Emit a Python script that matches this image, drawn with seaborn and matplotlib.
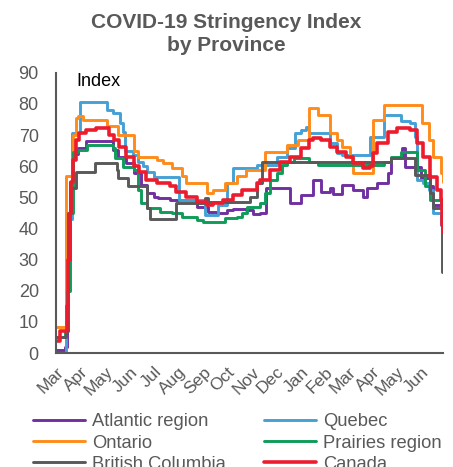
import pandas as pd
import matplotlib
matplotlib.use("Agg")
import matplotlib.pyplot as plt
import seaborn as sns

# change points of each step series (date, index value)
atlantic_dates = ["2020-03-01", "2020-03-12", "2020-03-14", "2020-03-18", "2020-03-22", "2020-03-28",
                  "2020-04-07", "2020-05-11", "2020-05-17", "2020-05-27", "2020-06-06", "2020-06-15",
                  "2020-06-23", "2020-07-01", "2020-07-06", "2020-07-21", "2020-08-24", "2020-09-07",
                  "2020-09-18", "2020-10-01", "2020-10-08", "2020-10-25", "2020-11-02", "2020-11-11",
                  "2020-11-19", "2020-12-19", "2021-01-01", "2021-01-16", "2021-01-26", "2021-02-07",
                  "2021-02-10", "2021-02-22", "2021-03-07", "2021-03-20", "2021-03-25", "2021-04-07",
                  "2021-04-20", "2021-04-24", "2021-05-08", "2021-05-12", "2021-05-31", "2021-06-12",
                  "2021-06-15", "2021-06-28"]
atlantic_vals = [1, 2, 30, 55, 64, 66,
                 68, 65.3, 63, 61, 57.9, 54,
                 51.4, 50.2, 49.8, 49, 47, 45.4,
                 45, 45.8, 46.4, 46, 44.8, 45,
                 53, 48.2, 50.8, 55.6, 51.8, 53,
                 51, 54, 52.5, 50.2, 53, 54.6,
                 57.9, 62.6, 65.9, 59.8, 56.2, 53.5,
                 47.6, 47.6]

quebec_dates = ["2020-03-01", "2020-03-13", "2020-03-21", "2020-03-31", "2020-05-03", "2020-05-11",
                "2020-05-20", "2020-05-23", "2020-05-26", "2020-06-05", "2020-06-11", "2020-06-18",
                "2020-06-23", "2020-07-01", "2020-08-02", "2020-09-03", "2020-09-19", "2020-10-01",
                "2020-10-08", "2020-11-07", "2020-12-02", "2020-12-15", "2020-12-25", "2021-01-01",
                "2021-01-07", "2021-01-11", "2021-02-07", "2021-02-15", "2021-02-22", "2021-03-29",
                "2021-04-15", "2021-05-06", "2021-05-18", "2021-05-24", "2021-05-27", "2021-06-03",
                "2021-06-10", "2021-06-16", "2021-06-25", "2021-06-28"]
quebec_vals = [0, 43, 70.7, 80.5, 78, 77,
               74, 71, 65, 63.6, 61.4, 60,
               58, 56.6, 49, 44.4, 47.6, 54.6,
               59.5, 60.4, 63, 65.9, 70.7, 71.7,
               72.7, 70.7, 67.5, 64.3, 63.6, 69.5,
               76.5, 74.4, 74, 69.5, 55.6, 54.6,
               52.4, 45, 41, 41]

ontario_dates = ["2020-03-01", "2020-03-13", "2020-03-22", "2020-03-26", "2020-03-28", "2020-04-03",
                 "2020-05-03", "2020-05-17", "2020-06-06", "2020-06-11", "2020-07-05", "2020-07-13",
                 "2020-07-24", "2020-08-05", "2020-08-11", "2020-09-06", "2020-09-13", "2020-09-28",
                 "2020-10-13", "2020-10-25", "2020-11-17", "2020-12-15", "2020-12-28", "2021-01-11",
                 "2021-01-23", "2021-02-07", "2021-02-15", "2021-02-22", "2021-03-03", "2021-03-07",
                 "2021-04-02", "2021-04-15", "2021-06-02", "2021-06-10", "2021-06-16", "2021-06-25",
                 "2021-06-28"]
ontario_vals = [8.4, 57, 70, 75.5, 76, 75,
                73, 70, 65, 63, 62, 61,
                59.5, 57, 54.6, 51.4, 52.4, 54.6,
                57, 58.8, 64.7, 66.8, 68.5, 78.7,
                76.5, 70.7, 68.5, 66.3, 63, 57.9,
                75, 79.7, 74, 68.5, 63, 57.9,
                55]

prairies_dates = ["2020-03-01", "2020-03-12", "2020-03-14", "2020-03-18", "2020-03-22", "2020-03-28",
                  "2020-04-08", "2020-05-11", "2020-05-13", "2020-05-23", "2020-06-06", "2020-06-11",
                  "2020-06-15", "2020-06-23", "2020-07-09", "2020-07-24", "2020-08-06", "2020-08-24",
                  "2020-09-01", "2020-09-28", "2020-10-13", "2020-10-20", "2020-10-26", "2020-11-11",
                  "2020-11-17", "2020-11-23", "2020-12-02", "2020-12-09", "2020-12-15", "2020-12-23",
                  "2021-01-11", "2021-01-22", "2021-04-15", "2021-04-24", "2021-05-06", "2021-05-27",
                  "2021-06-06", "2021-06-12", "2021-06-25", "2021-06-28"]
prairies_vals = [5, 7, 20, 45, 64.6, 65.3,
                 66.8, 65.9, 62.6, 59.8, 58.8, 52.4,
                 48.2, 46.6, 45.3, 45, 43.8, 42.8,
                 42.2, 43.4, 43.8, 45, 47, 48.2,
                 51.4, 55.6, 57.9, 60.4, 61.5, 62.6,
                 61.5, 60.4, 61.5, 63, 64.7, 58.8,
                 53.5, 49, 48.2, 47]

bc_dates = ["2020-03-01", "2020-03-13", "2020-03-16", "2020-03-19", "2020-03-26", "2020-04-18",
            "2020-05-16", "2020-05-17", "2020-05-30", "2020-06-23", "2020-06-26", "2020-07-29",
            "2020-09-03", "2020-09-07", "2020-10-29", "2020-11-07", "2020-11-14", "2021-04-24",
            "2021-05-24", "2021-06-12", "2021-06-16", "2021-06-27", "2021-06-28"]
bc_vals = [5, 7, 45, 53, 58, 61,
           58.8, 56.2, 53.5, 46.6, 43, 48.2,
           49.8, 48.6, 50, 54.6, 61.4, 62.6,
           57.2, 51.4, 46.6, 26, 26]

canada_dates = ["2020-03-01", "2020-03-06", "2020-03-14", "2020-03-16", "2020-03-18", "2020-03-20",
                "2020-03-22", "2020-03-26", "2020-03-29", "2020-04-07", "2020-04-20", "2020-05-06",
                "2020-05-12", "2020-05-18", "2020-05-27", "2020-06-06", "2020-06-13", "2020-06-22",
                "2020-07-05", "2020-07-21", "2020-07-29", "2020-08-11", "2020-08-24", "2020-09-06",
                "2020-09-13", "2020-09-26", "2020-10-08", "2020-10-20", "2020-11-07", "2020-11-11",
                "2020-11-23", "2020-12-06", "2020-12-19", "2021-01-01", "2021-01-11", "2021-01-16",
                "2021-01-26", "2021-02-07", "2021-02-15", "2021-02-27", "2021-03-07", "2021-03-20",
                "2021-03-29", "2021-04-02", "2021-04-07", "2021-04-20", "2021-05-02", "2021-05-18",
                "2021-05-27", "2021-06-03", "2021-06-12", "2021-06-21", "2021-06-25", "2021-06-27",
                "2021-06-28"]
canada_vals = [4, 7, 15, 30, 45, 55,
               62, 68.5, 70.7, 71.5, 72.3, 70,
               68.5, 66.3, 63, 60, 58, 55.6,
               54.5, 53.5, 51.8, 50.2, 48.6, 47.6,
               48.2, 49.2, 50.8, 52.4, 54.6, 55.6,
               58.8, 61.5, 63, 65.9, 68.5, 69,
               68.5, 66.3, 64.7, 63, 61, 59.5,
               60, 64.3, 67.5, 71, 72.3, 71.7,
               67.5, 63, 56.7, 52.4, 49, 41,
               39]

regions = ["Atlantic region", "Quebec", "Ontario", "Prairies region", "British Columbia", "Canada"]
series = {
    "Atlantic region": (atlantic_dates, atlantic_vals),
    "Quebec": (quebec_dates, quebec_vals),
    "Ontario": (ontario_dates, ontario_vals),
    "Prairies region": (prairies_dates, prairies_vals),
    "British Columbia": (bc_dates, bc_vals),
    "Canada": (canada_dates, canada_vals),
}
colors = {
    "Atlantic region": "#7030A0",
    "Quebec": "#45A0D6",
    "Ontario": "#FF8C1A",
    "Prairies region": "#0F9B58",
    "British Columbia": "#595959",
    "Canada": "#EC1C2E",
}
month_labels = ["Mar", "Apr", "May", "Jun", "Jul", "Aug", "Sep", "Oct", "Nov", "Dec",
                "Jan", "Feb", "Mar", "Apr", "May", "Jun"]

sns.set_style("white")
plt.rcParams["font.family"] = ["Liberation Sans", "DejaVu Sans"]
grey = "#595959"

fig = plt.figure(figsize=(4.53, 4.67), dpi=100)
ax = fig.add_axes([0.124, 0.244, 0.854, 0.600])

for name in regions:
    d, v = series[name]
    df = pd.DataFrame({"date": pd.to_datetime(d), "value": v})
    sns.lineplot(data=df, x="date", y="value", ax=ax, color=colors[name], label=name,
                 drawstyle="steps-post", linewidth=2.6 if name == "Canada" else 2.1)

ax.set_ylim(0, 90)
ax.set_yticks(range(0, 91, 10))
ax.set_xlim(pd.Timestamp("2020-03-01"), pd.Timestamp("2021-06-28"))
ticks = pd.date_range("2020-03-01", "2021-06-01", freq="MS")
ax.set_xticks(ticks)
ax.set_xticklabels(month_labels, rotation=45, ha="right", rotation_mode="anchor")
ax.set_xlabel("")
ax.set_ylabel("")

for s in ["top", "right"]:
    ax.spines[s].set_visible(False)
for s in ["left", "bottom"]:
    ax.spines[s].set_color(grey)
    ax.spines[s].set_linewidth(1.5)
ax.tick_params(axis="both", direction="in", colors=grey, length=5, width=1)
ax.tick_params(axis="y", labelsize=13, pad=12.5)
ax.tick_params(axis="x", labelsize=12.5, pad=8)

ax.text(0.052, 0.968, "Index", transform=ax.transAxes, fontsize=13, color="black", va="center")
fig.suptitle("COVID-19 Stringency Index\nby Province", x=0.5, y=0.972, fontsize=15,
             fontweight="bold", color=grey, linespacing=1.25)

ax.legend_.remove()
handles, labels = ax.get_legend_handles_labels()
order = [0, 2, 4, 1, 3, 5]  # row-wise reading: Atlantic/Quebec, Ontario/Prairies, BC/Canada
leg = fig.legend([handles[i] for i in order], [labels[i] for i in order],
                 loc="upper left", bbox_to_anchor=(0.073, 0.115), ncol=2,
                 frameon=False, fontsize=13.2, handlelength=2.84, columnspacing=2.1,
                 labelspacing=0.23, handletextpad=0.38, borderpad=0, borderaxespad=0)
for t in leg.get_texts():
    t.set_color(grey)

fig.savefig("out.png", dpi=100)
